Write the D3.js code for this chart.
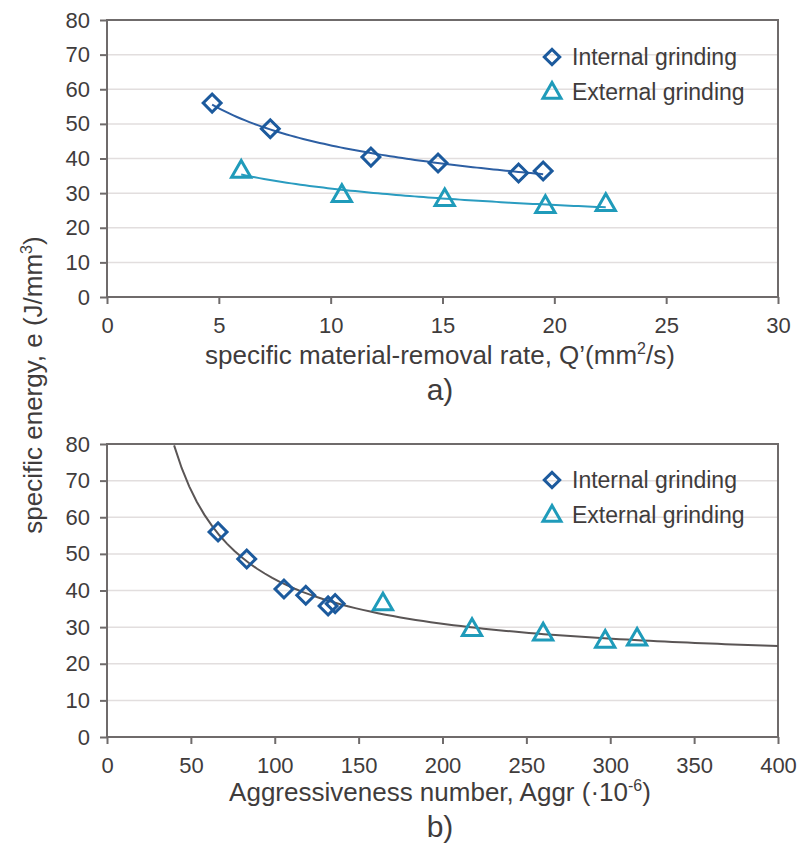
<!DOCTYPE html>
<html>
<head>
<meta charset="utf-8">
<script src="https://cdn.jsdelivr.net/npm/d3@7"></script>
<style>
  body { margin: 0; background: #fff; }
  svg text { font-family: "Liberation Sans", Arial, sans-serif; fill: #3f3c3c; }
</style>
</head>
<body>
<script>
// data
const qInternal = [4.7, 7.3, 11.8, 14.8, 18.4, 19.5]
const eInternal = [56, 48.6, 40.4, 38.7, 35.8, 36.4]
const qExternal = [6.0, 10.5, 15.1, 19.6, 22.3]
const eExternal = [36.5, 29.5, 28.3, 26.3, 26.9]
const aggrInternal = [66.2, 83.3, 105.5, 118.5, 131.8, 136]
const aggrExternal = [164.5, 217.6, 260, 297, 316]

const yTicks = [0, 10, 20, 30, 40, 50, 60, 70, 80]
const qTicks = [0, 5, 10, 15, 20, 25, 30]
const aggrTicks = [0, 50, 100, 150, 200, 250, 300, 350, 400]
const seriesNames = ['Internal grinding', 'External grinding']

const colInt = '#1c5a9d'
const colExt = '#1f9bba'
const colGrid = '#e2dede'
const colFrame = '#6f6b6b'

let svg = d3.select('body')
    .append('svg')
    .attr('width', 798)
    .attr('height', 853)

// least squares helpers for the trend lines
function linFit(xs, ys) {
    const mx = d3.mean(xs), my = d3.mean(ys)
    let sxy = 0, sxx = 0
    xs.forEach((x, i) => { sxy += (x - mx) * (ys[i] - my); sxx += (x - mx) * (x - mx) })
    const b = sxy / sxx
    return [my - b * mx, b]
}
function powerFit(xs, ys) {
    const [la, b] = linFit(xs.map(Math.log), ys.map(Math.log))
    const a = Math.exp(la)
    return x => a * Math.pow(x, b)
}
function hyperFit(xs, ys) {
    const [a, b] = linFit(xs.map(x => 1 / x), ys)
    return x => a + b / x
}

function drawDiamond(g, x, y, s) {
    g.append('path')
        .attr('d', d3.symbol().type(d3.symbolSquare).size(s)())
        .attr('transform', `translate(${x},${y}) rotate(45)`)
        .attr('fill', 'none')
        .attr('stroke', colInt)
        .attr('stroke-width', 3)
}
function drawTriangle(g, x, y, s) {
    g.append('path')
        .attr('d', d3.symbol().type(d3.symbolTriangle).size(s)())
        .attr('transform', `translate(${x},${y + 1})`)
        .attr('fill', 'none')
        .attr('stroke', colExt)
        .attr('stroke-width', 3)
        .attr('stroke-linejoin', 'miter')
}

function makePanel(top, bottom, xMax, xTicks) {
    const x = d3.scaleLinear().domain([0, xMax]).range([107, 778])
    const y = d3.scaleLinear().domain([0, 80]).range([bottom, top])
    const g = svg.append('g')

    // gridlines
    g.selectAll('.grid')
        .data(yTicks.slice(1))
        .enter()
        .append('line')
        .attr('x1', 107).attr('x2', 778)
        .attr('y1', d => y(d)).attr('y2', d => y(d))
        .attr('stroke', colGrid)
        .attr('stroke-width', 1.5)

    const ax = g.append('g')
        .attr('transform', `translate(0,${bottom})`)
        .call(d3.axisBottom(x).tickValues(xTicks).tickSize(7).tickSizeOuter(0).tickPadding(13))
    const ay = g.append('g')
        .attr('transform', 'translate(107,0)')
        .call(d3.axisLeft(y).tickValues(yTicks).tickSize(7).tickSizeOuter(0).tickPadding(10))
    ;[ax, ay].forEach(a => {
        a.select('.domain').remove()
        a.selectAll('line').attr('stroke', colFrame).attr('stroke-width', 2)
        a.selectAll('text').attr('font-size', 22).attr('fill', '#3f3c3c')
    })

    g.append('rect')
        .attr('x', 107).attr('y', top)
        .attr('width', 671).attr('height', bottom - top)
        .attr('fill', 'none')
        .attr('stroke', colFrame)
        .attr('stroke-width', 2)
    return { x, y, g }
}

function legend(g, lx, ly) {
    drawDiamond(g, lx, ly, 120)
    g.append('text').attr('x', lx + 20).attr('y', ly + 8).attr('font-size', 23).text(seriesNames[0])
    drawTriangle(g, lx, ly + 35, 140)
    g.append('text').attr('x', lx + 20).attr('y', ly + 43).attr('font-size', 23).text(seriesNames[1])
}

// panel a
const pa = makePanel(20, 297, 30, qTicks)
const fitI = powerFit(qInternal, eInternal)
const fitE = powerFit(qExternal, eExternal)
const line = (f, x, y, x0, x1) => d3.line()
    .x(d => x(d)).y(d => y(f(d)))
    .curve(d3.curveLinear)(d3.range(x0, x1 + 0.001, (x1 - x0) / 80))

pa.g.append('path')
    .attr('d', line(fitI, pa.x, pa.y, d3.min(qInternal), d3.max(qInternal)))
    .attr('fill', 'none').attr('stroke', '#2d5fa3').attr('stroke-width', 2)
pa.g.append('path')
    .attr('d', line(fitE, pa.x, pa.y, d3.min(qExternal), d3.max(qExternal)))
    .attr('fill', 'none').attr('stroke', '#2a9cc0').attr('stroke-width', 2)
qInternal.forEach((q, i) => drawDiamond(pa.g, pa.x(q), pa.y(eInternal[i]), 160))
qExternal.forEach((q, i) => drawTriangle(pa.g, pa.x(q), pa.y(eExternal[i]), 160))
legend(pa.g, 552, 57)

svg.append('text')
    .attr('x', 440).attr('y', 364)
    .attr('text-anchor', 'middle')
    .attr('font-size', 26)
    .html('specific material-removal rate, Q\u2019(mm<tspan dy="-10" font-size="16">2</tspan><tspan dy="10">/s)</tspan>')
svg.append('text')
    .attr('x', 440).attr('y', 400)
    .attr('text-anchor', 'middle')
    .attr('font-size', 30)
    .text('a)')

// panel b
const pb = makePanel(444, 737, 400, aggrTicks)
const fitAll = hyperFit(aggrInternal.concat(aggrExternal), eInternal.concat(eExternal))
// start where the curve leaves the top of the plot
const xStart = d3.range(20, 400, 0.5).find(v => fitAll(v) <= 80)
pb.g.append('path')
    .attr('d', line(fitAll, pb.x, pb.y, xStart, 400))
    .attr('fill', 'none').attr('stroke', '#5a5555').attr('stroke-width', 2)
aggrInternal.forEach((a, i) => drawDiamond(pb.g, pb.x(a), pb.y(eInternal[i]), 160))
aggrExternal.forEach((a, i) => drawTriangle(pb.g, pb.x(a), pb.y(eExternal[i]), 160))
legend(pb.g, 552, 480)

svg.append('text')
    .attr('x', 440).attr('y', 801)
    .attr('text-anchor', 'middle')
    .attr('font-size', 26)
    .html('Aggressiveness number, Aggr (\u00b710<tspan dy="-10" font-size="16">-6</tspan><tspan dy="10">)</tspan>')
svg.append('text')
    .attr('x', 440).attr('y', 837)
    .attr('text-anchor', 'middle')
    .attr('font-size', 30)
    .text('b)')

// shared y title
svg.append('text')
    .attr('transform', 'translate(42,385) rotate(-90)')
    .attr('text-anchor', 'middle')
    .attr('font-size', 26)
    .html('specific energy, e (J/mm<tspan dy="-10" font-size="16">3</tspan><tspan dy="10">)</tspan>')
</script>
</body>
</html>
